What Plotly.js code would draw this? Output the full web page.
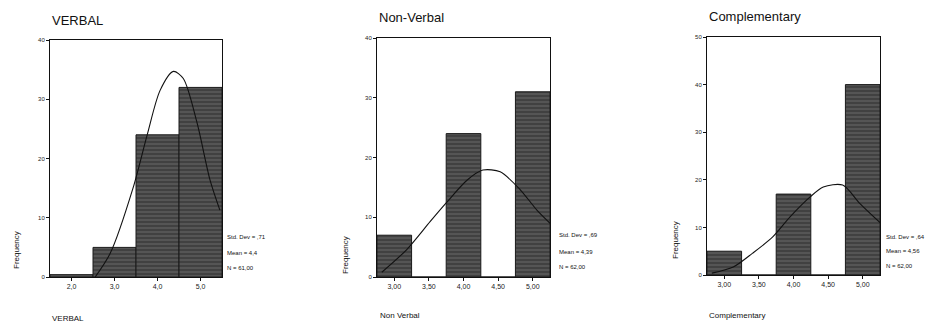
<!DOCTYPE html>
<html><head><meta charset="utf-8">
<script src="https://cdn.plot.ly/plotly-3.0.1.min.js"></script>
<style>html,body{margin:0;padding:0;background:#fff}#c{width:938px;height:324px}</style>
</head><body><div id="c"></div>
<script>
// VERBAL
const verbalX = [2, 3, 4, 5];
const verbalFreq = [0.4, 5, 24, 32];
const verbalTicks = ["2,0", "3,0", "4,0", "5,0"];
const verbalCurveX = [2.55, 2.9, 3.43, 3.76, 4.06, 4.37, 4.6, 4.92, 5.22, 5.45];
const verbalCurveY = [0, 4, 15, 24, 31.5, 34.7, 33.5, 26, 16.4, 11.3];
const verbalStats = ["Std. Dev = ,71", "Mean = 4,4", "N = 61,00"];
// Non-Verbal
const nonVerbalX = [3, 3.5, 4, 4.5, 5];
const nonVerbalFreq = [7, 0, 24, 0, 31];
const nonVerbalTicks = ["3,00", "3,50", "4,00", "4,50", "5,00"];
const nonVerbalCurveX = [2.82, 3.18, 3.52, 3.75, 4.05, 4.28, 4.53, 4.82, 5.06, 5.25];
const nonVerbalCurveY = [0.8, 4.6, 9.3, 12.4, 16.2, 17.9, 17.6, 14.6, 11.2, 9];
const nonVerbalStats = ["Std. Dev = ,69", "Mean = 4,39", "N = 62,00"];
// Complementary
const compX = [3, 3.5, 4, 4.5, 5];
const compFreq = [5, 0, 17, 0, 40];
const compTicks = ["3,00", "3,50", "4,00", "4,50", "5,00"];
const compCurveX = [2.82, 3.13, 3.41, 3.70, 3.95, 4.24, 4.43, 4.71, 4.96, 5.25];
const compCurveY = [0.4, 1.7, 4.6, 8, 12.2, 16.4, 18.5, 18.9, 15, 11];
const compStats = ["Std. Dev = ,64", "Mean = 4,56", "N = 62,00"];

const panelTitles = ["VERBAL", "Non-Verbal", "Complementary"];
const xTitles = ["VERBAL", "Non Verbal", "Complementary"];

const barStyle = {
  color: '#4d4d4d',
  line: {color: '#1a1a1a', width: 1},
  pattern: {shape: '-', fgcolor: '#333333', bgcolor: '#555555', size: 4, solidity: 0.3}
};
function bars(x, y, w, xa, ya) {
  return {type: 'bar', x: x, y: y, width: w, xaxis: xa, yaxis: ya, marker: barStyle, hoverinfo: 'skip'};
}
function curve(x, y, xa, ya) {
  return {type: 'scatter', mode: 'lines', x: x, y: y, xaxis: xa, yaxis: ya,
    line: {color: '#111', width: 1.1, shape: 'spline', smoothing: 0.8}, hoverinfo: 'skip'};
}
const data = [
  bars(verbalX, verbalFreq, 1, 'x', 'y'),
  curve(verbalCurveX, verbalCurveY, 'x', 'y'),
  bars(nonVerbalX, nonVerbalFreq, 0.5, 'x2', 'y2'),
  curve(nonVerbalCurveX, nonVerbalCurveY, 'x2', 'y2'),
  bars(compX, compFreq, 0.5, 'x3', 'y3'),
  curve(compCurveX, compCurveY, 'x3', 'y3')
];
const tickFont = {family: 'Liberation Sans, Arial, sans-serif', size: 7, color: '#222'};
function xaxis(dom, rng, vals, txt, anchor) {
  return {domain: dom, range: rng, anchor: anchor, tickmode: 'array', tickvals: vals, ticktext: txt,
    showline: true, mirror: true, linecolor: '#111', linewidth: 1, showgrid: false, zeroline: false,
    ticks: 'outside', ticklen: 3, tickcolor: '#111', tickfont: tickFont, fixedrange: true};
}
function yaxis(dom, rng, dt, anchor) {
  return {domain: dom, range: rng, anchor: anchor, dtick: dt, tick0: 0,
    showline: true, mirror: true, linecolor: '#111', linewidth: 1, showgrid: false, zeroline: false,
    ticks: 'outside', ticklen: 3, tickcolor: '#111', tickfont: {family: 'Liberation Sans, Arial, sans-serif', size: 6, color: '#222'}, fixedrange: true};
}
const f = 'Liberation Sans, Arial, sans-serif';
const ann = [];
function addText(x, y, t, size, extra) {
  ann.push(Object.assign({xref: 'paper', yref: 'paper', x: x / 938, y: 1 - y / 324, text: t,
    showarrow: false, xanchor: 'left', yanchor: 'middle', font: {family: f, size: size, color: '#111'}}, extra || {}));
}
addText(50, 20, panelTitles[0], 13);
addText(377, 17, panelTitles[1], 13);
addText(707, 16, panelTitles[2], 13);
addText(50, 318, xTitles[0], 8);
addText(378, 315, xTitles[1], 8);
addText(707, 315, xTitles[2], 8);
addText(16, 250, 'Frequency', 8, {textangle: -90, xanchor: 'center'});
addText(345, 255, 'Frequency', 8, {textangle: -90, xanchor: 'center'});
addText(675, 240, 'Frequency', 8, {textangle: -90, xanchor: 'center'});
verbalStats.forEach((s, i) => addText(225, [237, 253, 268][i], s, 6));
nonVerbalStats.forEach((s, i) => addText(557, [235, 252, 267][i], s, 6));
compStats.forEach((s, i) => addText(884, [237, 251, 266][i], s, 6));

const layout = {
  width: 938, height: 324, margin: {l: 0, r: 0, t: 0, b: 0},
  paper_bgcolor: '#fff', plot_bgcolor: '#fff', showlegend: false, bargap: 0,
  xaxis: xaxis([0.0533, 0.2367], [1.5, 5.5], verbalX, verbalTicks, 'y'),
  yaxis: yaxis([0.145, 0.8765], [0, 40], 10, 'x'),
  xaxis2: xaxis([0.4019, 0.5864], [2.75, 5.25], nonVerbalX, nonVerbalTicks, 'y2'),
  yaxis2: yaxis([0.145, 0.8827], [0, 40], 10, 'x2'),
  xaxis3: xaxis([0.7537, 0.9382], [2.75, 5.25], compX, compTicks, 'y3'),
  yaxis3: yaxis([0.1512, 0.8858], [0, 50], 10, 'x3'),
  annotations: ann
};
Plotly.newPlot('c', data, layout, {displayModeBar: false, staticPlot: true});
</script></body></html>
